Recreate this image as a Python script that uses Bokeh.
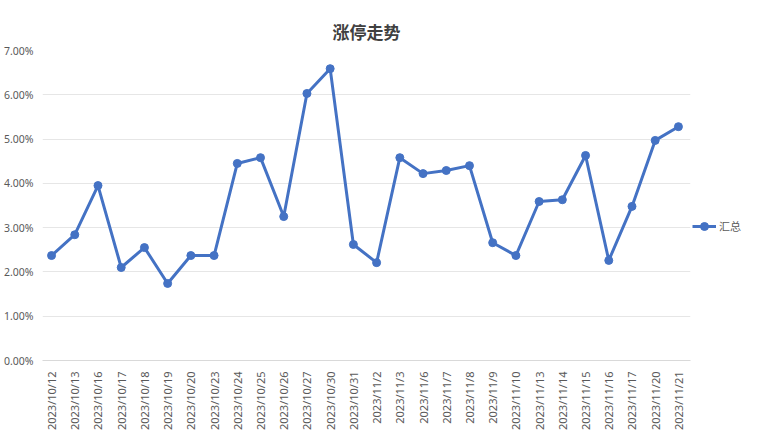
from bokeh.plotting import figure
from bokeh.models import ColumnDataSource, Legend, LegendItem, NumeralTickFormatter, FixedTicker, Range1d
from bokeh.embed import file_html
from bokeh.resources import INLINE
import math

dates = ["2023/10/12", "2023/10/13", "2023/10/16", "2023/10/17", "2023/10/18", "2023/10/19",
         "2023/10/20", "2023/10/23", "2023/10/24", "2023/10/25", "2023/10/26", "2023/10/27",
         "2023/10/30", "2023/10/31", "2023/11/2", "2023/11/3", "2023/11/6", "2023/11/7",
         "2023/11/8", "2023/11/9", "2023/11/10", "2023/11/13", "2023/11/14", "2023/11/15",
         "2023/11/16", "2023/11/17", "2023/11/20", "2023/11/21"]
values = [0.0237, 0.0284, 0.0395, 0.0210, 0.0255, 0.0174, 0.0237, 0.0237, 0.0445, 0.0458,
          0.0325, 0.0603, 0.0659, 0.0262, 0.0221, 0.0458, 0.0422, 0.0429, 0.0440, 0.0266,
          0.0237, 0.0359, 0.0363, 0.0463, 0.0226, 0.0348, 0.0497, 0.0528]
y_ticks = [0.0, 0.01, 0.02, 0.03, 0.04, 0.05, 0.06, 0.07]
title_text = "涨停走势"
series_name = "汇总"

idx = list(range(len(dates)))
src = ColumnDataSource(dict(x=idx, d=dates, v=values))

p = figure(frame_width=648, frame_height=310,
           x_range=Range1d(-0.39, len(dates) - 0.48), y_range=Range1d(0, 0.07),
           output_backend="svg", toolbar_location=None,
           min_border_left=40, min_border_right=56, min_border_top=50, min_border_bottom=63)
p.title.text = title_text
p.title.align = "center"
p.title.offset = 9
p.title.text_font = "Noto Sans CJK SC"
p.title.text_font_size = "17px"
p.title.text_color = "#404040"
p.title.text_font_style = "bold"
p.title.standoff = 14
p.outline_line_color = None
p.background_fill_color = "white"

line = p.line("x", "v", source=src, line_color="#4472C4", line_width=3)
pts = p.scatter("x", "v", source=src, size=8, fill_color="#4472C4", line_color="#4472C4")

p.yaxis.ticker = FixedTicker(ticks=y_ticks)
p.yaxis.formatter = NumeralTickFormatter(format="0.00%")
p.yaxis.axis_line_color = None
p.yaxis.major_tick_line_color = None
p.yaxis.minor_tick_line_color = None
p.yaxis.major_label_text_color = "#595959"
p.yaxis.major_label_text_font = "Noto Sans"
p.yaxis.major_label_text_font_size = "10.5px"
p.yaxis.major_label_standoff = 3

p.xaxis.ticker = FixedTicker(ticks=idx)
p.xaxis.major_label_overrides = {i: d for i, d in zip(idx, dates)}
p.xaxis.axis_line_color = "#d9d9d9"
p.xaxis.major_tick_line_color = None
p.xaxis.minor_tick_line_color = None
p.xaxis.major_label_orientation = math.pi / 2
p.xaxis.major_label_text_color = "#595959"
p.xaxis.major_label_text_font = "Noto Sans"
p.xaxis.major_label_text_font_size = "11px"
p.xaxis.major_label_standoff = 5

p.xgrid.grid_line_color = None
p.ygrid.grid_line_color = "#e6e6e6"
p.ygrid.grid_line_width = 1

legend = Legend(items=[LegendItem(label=series_name, renderers=[line, pts])],
                location=(2, 124), border_line_color=None, background_fill_alpha=0,
                label_text_font="Noto Sans CJK SC", label_text_font_size="11px",
                label_text_color="#595959", glyph_width=24, padding=2, margin=0,
                label_standoff=3)
p.add_layout(legend, "right")

html = file_html(p, INLINE)
open("out.html", "w").write(html)
